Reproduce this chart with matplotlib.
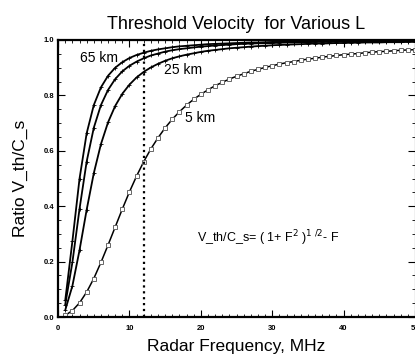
# ============================================================
# THRESHOLD VELOCITY FOR VARIOUS L
# ============================================================

import numpy as np
import matplotlib.pyplot as plt
from matplotlib.ticker import MultipleLocator


# ============================================================
# 1. DATA
# ============================================================

freq_mhz = list(range(1, 51))

ratio_65km = [
    0.060, 0.273, 0.499, 0.663, 0.765, 0.829, 0.871, 0.900, 0.920, 0.935,
    0.946, 0.954, 0.961, 0.966, 0.970, 0.974, 0.977, 0.979, 0.981, 0.983,
    0.985, 0.986, 0.987, 0.988, 0.989, 0.990, 0.991, 0.991, 0.992, 0.993,
    0.993, 0.993, 0.994, 0.994, 0.995, 0.995, 0.995, 0.995, 0.996, 0.996,
    0.996, 0.996, 0.996, 0.997, 0.997, 0.997, 0.997, 0.997, 0.997, 0.997,
]

ratio_45km = [
    0.045, 0.197, 0.390, 0.561, 0.683, 0.765, 0.820, 0.859, 0.887, 0.907,
    0.922, 0.934, 0.944, 0.951, 0.958, 0.963, 0.967, 0.970, 0.973, 0.976,
    0.978, 0.980, 0.982, 0.983, 0.985, 0.986, 0.987, 0.988, 0.988, 0.989,
    0.990, 0.991, 0.991, 0.992, 0.992, 0.993, 0.993, 0.993, 0.994, 0.994,
    0.994, 0.995, 0.995, 0.995, 0.995, 0.995, 0.996, 0.996, 0.996, 0.996,
]

ratio_25km = [
    0.025, 0.112, 0.241, 0.387, 0.519, 0.624, 0.703, 0.762, 0.806, 0.839,
    0.865, 0.885, 0.901, 0.914, 0.925, 0.934, 0.941, 0.947, 0.952, 0.957,
    0.961, 0.964, 0.967, 0.970, 0.972, 0.974, 0.976, 0.978, 0.979, 0.981,
    0.982, 0.983, 0.984, 0.985, 0.986, 0.987, 0.987, 0.988, 0.989, 0.989,
    0.990, 0.990, 0.991, 0.991, 0.991, 0.992, 0.992, 0.992, 0.993, 0.993,
]

ratio_5km = [
    0.006, 0.023, 0.051, 0.090, 0.139, 0.197, 0.260, 0.325, 0.390, 0.452,
    0.509, 0.561, 0.607, 0.647, 0.683, 0.714, 0.741, 0.765, 0.786, 0.804,
    0.820, 0.835, 0.847, 0.859, 0.869, 0.878, 0.887, 0.894, 0.901, 0.907,
    0.913, 0.918, 0.922, 0.927, 0.931, 0.934, 0.938, 0.941, 0.944, 0.947,
    0.949, 0.951, 0.954, 0.956, 0.958, 0.959, 0.961, 0.963, 0.964, 0.965,
]

cutoff_freq = 12


# ============================================================
# 2. FIGURE
# ============================================================

plt.rcParams["font.family"] = ["Liberation Sans", "DejaVu Sans"]

fig = plt.figure(figsize=(4.15, 3.57), dpi=100)
ax = fig.add_axes([0.140, 0.112, 0.860, 0.776])

ax.plot(freq_mhz, ratio_65km, color="black", lw=1.3,
        marker="+", ms=3, mew=0.6)
ax.plot(freq_mhz, ratio_45km, color="black", lw=1.3,
        marker="+", ms=3, mew=0.6)
ax.plot(freq_mhz, ratio_25km, color="black", lw=1.3,
        marker="+", ms=3, mew=0.6)
ax.plot(freq_mhz, ratio_5km, color="black", lw=1.1,
        marker="s", ms=3.4, mfc="white", mec="#666666", mew=0.7)

ax.axvline(cutoff_freq, color="black", ls=":", lw=1.6)


# ============================================================
# 3. TEXTS
# ============================================================

ax.text(3.1, 0.935, "65 km", fontsize=10, ha="left", va="center")
ax.text(14.8, 0.890, "25 km", fontsize=10, ha="left", va="center")
ax.text(17.8, 0.720, "5 km", fontsize=10, ha="left", va="center")
ax.text(19.5, 0.285, r"V_th/C_s= ( 1+ F$^2$ )$^{1\ /2}$- F",
        fontsize=9, ha="left", va="center")

ax.set_title("Threshold Velocity  for Various L", fontsize=13, pad=8)
ax.set_xlabel("Radar Frequency, MHz", fontsize=12.5, labelpad=5)
ax.set_ylabel("Ratio V_th/C_s", fontsize=12.5, labelpad=11)


# ============================================================
# 4. AXES
# ============================================================

ax.set_xlim(0, 50)
ax.set_ylim(0, 1.0)
ax.xaxis.set_major_locator(MultipleLocator(10))
ax.xaxis.set_minor_locator(MultipleLocator(1))
ax.yaxis.set_major_locator(MultipleLocator(0.2))
ax.yaxis.set_minor_locator(MultipleLocator(0.05))
ax.set_yticklabels([f"{v:.1f}" for v in ax.get_yticks()])

ax.tick_params(which="both", direction="in", top=True, right=True)
ax.tick_params(which="major", length=5, width=0.8, labelsize=5.5)
ax.tick_params(axis="x", which="major", pad=6)
ax.tick_params(axis="y", which="major", pad=3)
ax.tick_params(which="minor", length=2.5, width=0.6)
for lab in ax.get_xticklabels() + ax.get_yticklabels():
    lab.set_fontweight("bold")

for side in ["left", "bottom", "top"]:
    ax.spines[side].set_linewidth(1.6)
ax.spines["right"].set_linewidth(0.8)

fig.savefig("out.png", dpi=100)
